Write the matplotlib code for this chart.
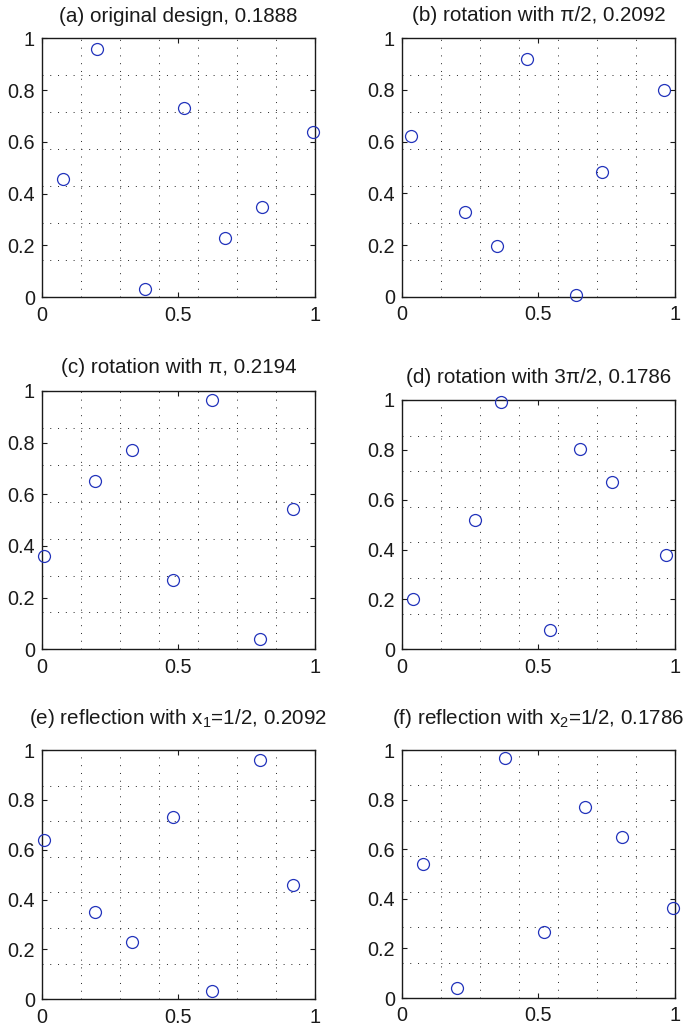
import matplotlib.pyplot as plt
from matplotlib.ticker import FixedLocator

plt.rcParams['font.family'] = ['Liberation Sans', 'DejaVu Sans']
plt.rcParams['mathtext.fontset'] = 'custom'
plt.rcParams['mathtext.rm'] = 'Liberation Sans'
plt.rcParams['mathtext.it'] = 'Liberation Sans:italic'

# point sets
a_x = [0.079, 0.202, 0.377, 0.519, 0.671, 0.805, 0.992]
a_y = [0.458, 0.960, 0.033, 0.732, 0.230, 0.349, 0.637]
b_x = [0.458, 0.960, 0.033, 0.732, 0.230, 0.349, 0.637]
b_y = [0.921, 0.798, 0.623, 0.481, 0.329, 0.195, 0.008]
c_x = [0.921, 0.798, 0.623, 0.481, 0.329, 0.195, 0.008]
c_y = [0.542, 0.040, 0.967, 0.268, 0.770, 0.651, 0.363]
d_x = [0.542, 0.040, 0.967, 0.268, 0.770, 0.651, 0.363]
d_y = [0.079, 0.202, 0.377, 0.519, 0.671, 0.805, 0.992]
e_x = [0.921, 0.798, 0.623, 0.481, 0.329, 0.195, 0.008]
e_y = [0.458, 0.960, 0.033, 0.732, 0.230, 0.349, 0.637]
f_x = [0.079, 0.202, 0.377, 0.519, 0.671, 0.805, 0.992]
f_y = [0.542, 0.040, 0.967, 0.268, 0.770, 0.651, 0.363]

titles = ["(a) original design, 0.1888",
          "(b) rotation with \u03c0/2, 0.2092",
          "(c) rotation with \u03c0, 0.2194",
          "(d) rotation with 3\u03c0/2, 0.1786",
          "(e) reflection with x$_1$=1/2, 0.2092",
          "(f) reflection with x$_2$=1/2, 0.1786"]
xs = [a_x, b_x, c_x, d_x, e_x, f_x]
ys = [a_y, b_y, c_y, d_y, e_y, f_y]

x_ticks = [0, 0.5, 1]
x_labels = ["0", "0.5", "1"]
y_ticks = [0, 0.2, 0.4, 0.6, 0.8, 1]
y_labels = ["0", "0.2", "0.4", "0.6", "0.8", "1"]
grid_pos = [k / 7 for k in range(1, 7)]

W, H = 689, 1030
# axes boxes in pixels: left, top, right, bottom ; title baseline y
boxes = [(41.7, 38.3, 315, 297.3, 21.7),
         (401.7, 38.3, 675, 296.7, 20.7),
         (41.7, 391, 315, 649.3, 373.3),
         (401.7, 400, 675, 649.3, 382.7),
         (41.7, 750, 315, 999.3, 724.3),
         (401.7, 750, 675, 998, 724.3)]

fig = plt.figure(figsize=(W / 100, H / 100), dpi=100)

for i in range(6):
    l, t, r, b, tb = boxes[i]
    ax = fig.add_axes([l / W, 1 - b / H, (r - l) / W, (b - t) / H])
    ax.plot(xs[i], ys[i], linestyle='none', marker='o', markersize=8.6,
            markerfacecolor='none', markeredgecolor='#2233bb',
            markeredgewidth=0.9, clip_on=False, zorder=5)
    ax.set_xlim(0, 1)
    ax.set_ylim(0, 1)
    ax.set_xticks(x_ticks)
    ax.set_xticklabels(x_labels)
    ax.set_yticks(y_ticks)
    ax.set_yticklabels(y_labels)
    ax.xaxis.set_minor_locator(FixedLocator(grid_pos))
    ax.yaxis.set_minor_locator(FixedLocator(grid_pos))
    ax.grid(which='minor', color='#222222', linestyle=(0, (1, 7)), linewidth=0.7)
    ax.tick_params(which='minor', length=0)
    ax.tick_params(which='major', direction='in', length=3.6, width=0.8,
                   top=True, right=True, labelsize=14.3, colors='#1a1a1a')
    ax.tick_params(axis='y', pad=4.8)
    ax.tick_params(axis='x', pad=6)
    for s in ax.spines.values():
        s.set_linewidth(1.0)
        s.set_color('#1a1a1a')
    fig.text((l + r) / 2 / W, 1 - tb / H, titles[i], ha='center', va='baseline',
             fontsize=14.9, color='#1a1a1a')

fig.savefig("out.png", dpi=100)
